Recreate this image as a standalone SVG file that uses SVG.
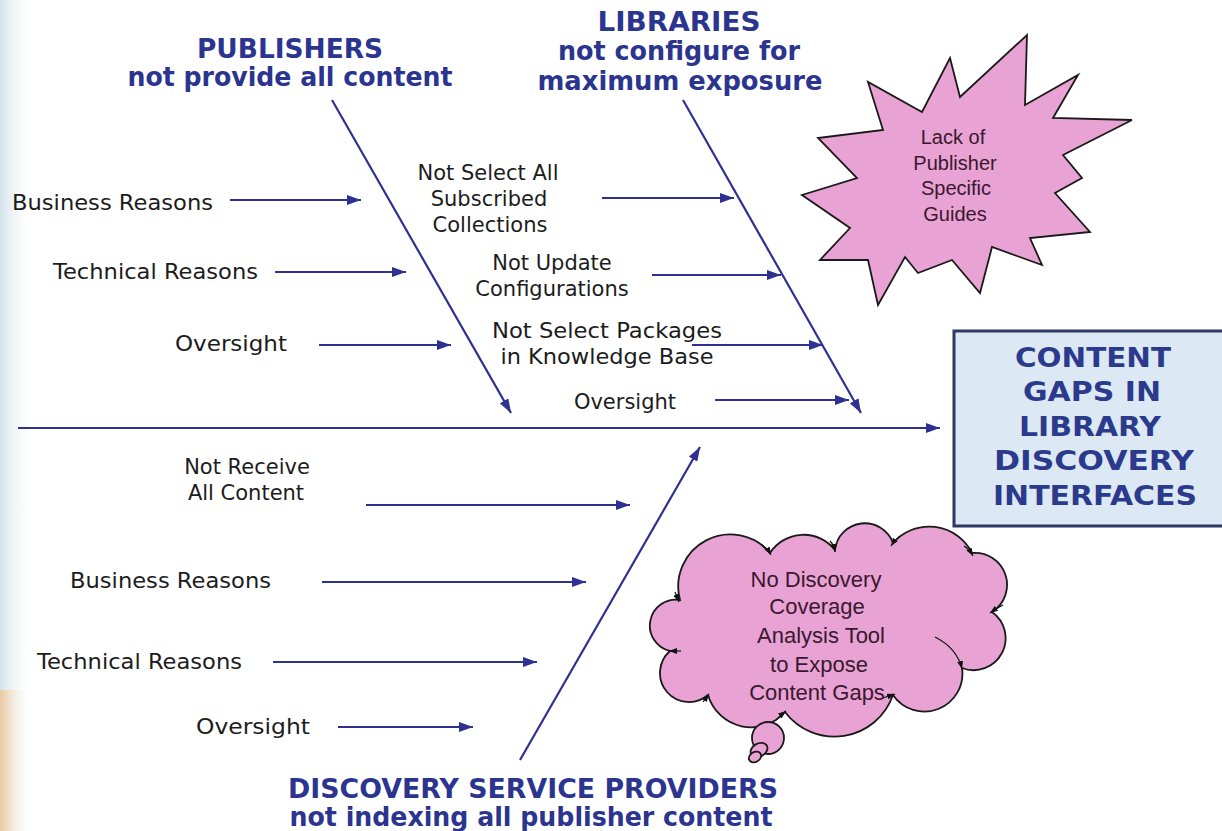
<svg xmlns="http://www.w3.org/2000/svg" width="1222" height="831" viewBox="0 0 1222 831">
<defs>
<style>
.bone{stroke:#3a3b92;stroke-width:2;fill:none}
.arr{stroke:#2e3192;stroke-width:2.2;fill:none;marker-end:url(#ah)}
.lbl{font-family:"DejaVu Sans",Verdana,sans-serif;font-size:21px;fill:#1c1c1c}
.head{font-family:"DejaVu Sans","Liberation Sans",sans-serif;font-weight:bold;font-size:26px;fill:#2b3590}
.box{font-family:"DejaVu Sans","Liberation Sans",sans-serif;font-weight:bold;font-size:27px;fill:#2b3a8c}
.pink{fill:#e8a2d3;stroke:#1a1a1a;stroke-width:1.8}
.inner{font-family:"Liberation Sans",Arial,sans-serif;fill:#3a1830}
.tick{stroke:#111;stroke-width:1.2;fill:none;marker-end:url(#sm)}
</style>
<marker id="ah" viewBox="0 0 14 10" refX="14" refY="5" markerWidth="14" markerHeight="10" markerUnits="userSpaceOnUse" orient="auto">
<path d="M0,0 L14,5 L0,10 z" fill="#2e3192"/>
</marker>
<marker id="sm" viewBox="0 0 8 6" refX="8" refY="3" markerWidth="8" markerHeight="6" markerUnits="userSpaceOnUse" orient="auto">
<path d="M0,0 L8,3 L0,6 z" fill="#111"/>
</marker>
<linearGradient id="edge" x1="0" y1="0" x2="1" y2="0">
<stop offset="0" stop-color="#d3e2ec"/>
<stop offset="1" stop-color="#ffffff" stop-opacity="0"/>
</linearGradient>
<linearGradient id="orng" x1="0" y1="0" x2="1" y2="0">
<stop offset="0" stop-color="#f2c089"/>
<stop offset="1" stop-color="#ffffff" stop-opacity="0"/>
</linearGradient>
</defs>
<rect width="1222" height="831" fill="#ffffff"/>
<rect x="0" y="0" width="34" height="831" fill="url(#edge)"/>
<rect x="0" y="690" width="30" height="141" fill="url(#orng)" opacity="0.8"/>

<g id="connectors">
<line class="arr" x1="18" y1="428" x2="940" y2="428"/>
<line class="arr" x1="332" y1="100" x2="511" y2="413"/>
<line class="arr" x1="683" y1="100" x2="861" y2="413"/>
<line class="arr" x1="520" y1="760" x2="700" y2="447"/>
<line class="arr" x1="230" y1="200" x2="361" y2="200"/>
<line class="arr" x1="275" y1="272" x2="406" y2="272"/>
<line class="arr" x1="319" y1="345" x2="451" y2="345"/>
<line class="arr" x1="602" y1="198" x2="734" y2="198"/>
<line class="arr" x1="652" y1="275" x2="781" y2="275"/>
<line class="arr" x1="692" y1="345" x2="823" y2="345"/>
<line class="arr" x1="715" y1="400" x2="849" y2="400"/>
<line class="arr" x1="366" y1="505" x2="630" y2="505"/>
<line class="arr" x1="322" y1="582" x2="586" y2="582"/>
<line class="arr" x1="273" y1="662" x2="537" y2="662"/>
<line class="arr" x1="338" y1="727" x2="473" y2="727"/>
</g>

<g id="publishers">
<text class="head" x="290" y="58" text-anchor="middle" textLength="186" lengthAdjust="spacingAndGlyphs">PUBLISHERS</text>
<text class="head" x="290" y="86" text-anchor="middle" textLength="325" lengthAdjust="spacingAndGlyphs">not provide all  content</text>
</g>
<g id="libraries">
<text class="head" x="679" y="31" text-anchor="middle" textLength="163" lengthAdjust="spacingAndGlyphs">LIBRARIES</text>
<text class="head" x="679" y="60" text-anchor="middle" textLength="242" lengthAdjust="spacingAndGlyphs">not configure for</text>
<text class="head" x="680" y="90" text-anchor="middle" textLength="285" lengthAdjust="spacingAndGlyphs">maximum  exposure</text>
</g>
<g id="providers">
<text class="head" x="533" y="798" text-anchor="middle" textLength="490" lengthAdjust="spacingAndGlyphs">DISCOVERY SERVICE PROVIDERS</text>
<text class="head" x="531" y="826" text-anchor="middle" textLength="483" lengthAdjust="spacingAndGlyphs">not indexing all publisher content</text>
</g>

<g id="pub-business"><text class="lbl" x="12" y="210" textLength="201" lengthAdjust="spacingAndGlyphs">Business Reasons</text></g>
<g id="pub-technical"><text class="lbl" x="53" y="279" textLength="205" lengthAdjust="spacingAndGlyphs">Technical Reasons</text></g>
<g id="pub-oversight"><text class="lbl" x="175" y="351" textLength="112" lengthAdjust="spacingAndGlyphs">Oversight</text></g>

<g id="lib-select" class="lbl" text-anchor="middle">
<text x="488" y="180">Not Select All</text>
<text x="489" y="206">Subscribed</text>
<text x="490" y="232">Collections</text>
</g>
<g id="lib-update" class="lbl" text-anchor="middle">
<text x="552" y="270">Not Update</text>
<text x="552" y="296">Configurations</text>
</g>
<g id="lib-packages" class="lbl" text-anchor="middle">
<text x="607" y="338" textLength="230" lengthAdjust="spacingAndGlyphs">Not Select Packages</text>
<text x="607" y="364" textLength="213" lengthAdjust="spacingAndGlyphs">in Knowledge Base</text>
</g>
<g id="lib-oversight"><text class="lbl" x="625" y="409" text-anchor="middle">Oversight</text></g>

<g id="dsp-receive" class="lbl" text-anchor="middle">
<text x="247" y="474">Not Receive</text>
<text x="246" y="500">All  Content</text>
</g>
<g id="dsp-business"><text class="lbl" x="70" y="588" textLength="201" lengthAdjust="spacingAndGlyphs">Business Reasons</text></g>
<g id="dsp-technical"><text class="lbl" x="37" y="669" textLength="205" lengthAdjust="spacingAndGlyphs">Technical Reasons</text></g>
<g id="dsp-oversight"><text class="lbl" x="196" y="734" textLength="114" lengthAdjust="spacingAndGlyphs">Oversight</text></g>

<g id="effect">
<rect x="954" y="331" width="284" height="195" fill="#dce8f4" stroke="#2d3960" stroke-width="3"/>
<text class="box" x="1093" y="367" text-anchor="middle" textLength="156" lengthAdjust="spacingAndGlyphs">CONTENT</text>
<text class="box" x="1092" y="401" text-anchor="middle" textLength="138" lengthAdjust="spacingAndGlyphs">GAPS IN</text>
<text class="box" x="1090" y="436" text-anchor="middle" textLength="142" lengthAdjust="spacingAndGlyphs">LIBRARY</text>
<text class="box" x="1094" y="470" text-anchor="middle" textLength="200" lengthAdjust="spacingAndGlyphs">DISCOVERY</text>
<text class="box" x="1095" y="505" text-anchor="middle" textLength="204" lengthAdjust="spacingAndGlyphs">INTERFACES</text>
</g>

<g id="starburst">
<polygon class="pink" points="1027,35 1025,105 1078,75 1053,118 1132,120 1063,155 1082,178 1055,193 1090,232 1030,238 1042,265 992,247 980,293 952,260 918,273 905,257 878,305 868,260 820,260 850,228 802,195 857,178 818,138 883,130 868,82 922,112 950,58 960,97"/>
<g class="inner" font-size="20" text-anchor="middle">
<text x="953" y="144">Lack of</text>
<text x="955" y="170">Publisher</text>
<text x="956" y="195">Specific</text>
<text x="955" y="221">Guides</text>
</g>
</g>

<g id="cloud">
<path class="pink" d="M680,600 A52,52 0 0 1 770,553 A40,40 0 0 1 835,550 A30,30 0 0 1 893,543 A48,48 0 0 1 972,553 A32,32 0 0 1 992,612 A32,32 0 0 1 962,668 A38,38 0 0 1 893,695 A62,62 0 0 1 785,712 A45,45 0 0 1 708,695 A28.5,28.5 0 0 1 670,651 A26,26 0 0 1 680,600 Z"/>
<circle class="pink" cx="768" cy="738" r="16"/>
<ellipse class="pink" cx="759" cy="750" rx="9" ry="6.5" transform="rotate(-30 759 750)"/>
<ellipse class="pink" cx="755" cy="757" rx="6.5" ry="5" transform="rotate(-30 755 757)"/>
<path class="tick" d="M761,544 Q767,548 771,555"/>
<path class="tick" d="M830,541 Q834,545 835,552"/>
<path class="tick" d="M900,536 Q895,540 891,546"/>
<path class="tick" d="M964,546 Q969,549 973,556"/>
<path class="tick" d="M1003,605 Q997,608 990,613"/>
<path class="tick" d="M935,637 Q957,648 962,669"/>
<path class="tick" d="M883,698 Q889,696 895,694"/>
<path class="tick" d="M776,720 Q781,715 786,711"/>
<path class="tick" d="M703,702 Q706,698 709,694"/>
<path class="tick" d="M681,651 Q676,651 669,651"/>
<path class="tick" d="M675,592 Q677,597 679,602"/>
<g class="inner" font-size="22" text-anchor="middle">
<text x="816" y="587">No Discovery</text>
<text x="817" y="614">Coverage</text>
<text x="821" y="643">Analysis Tool</text>
<text x="819" y="672">to Expose</text>
<text x="817" y="700">Content  Gaps</text>
</g>
</g>
</svg>
